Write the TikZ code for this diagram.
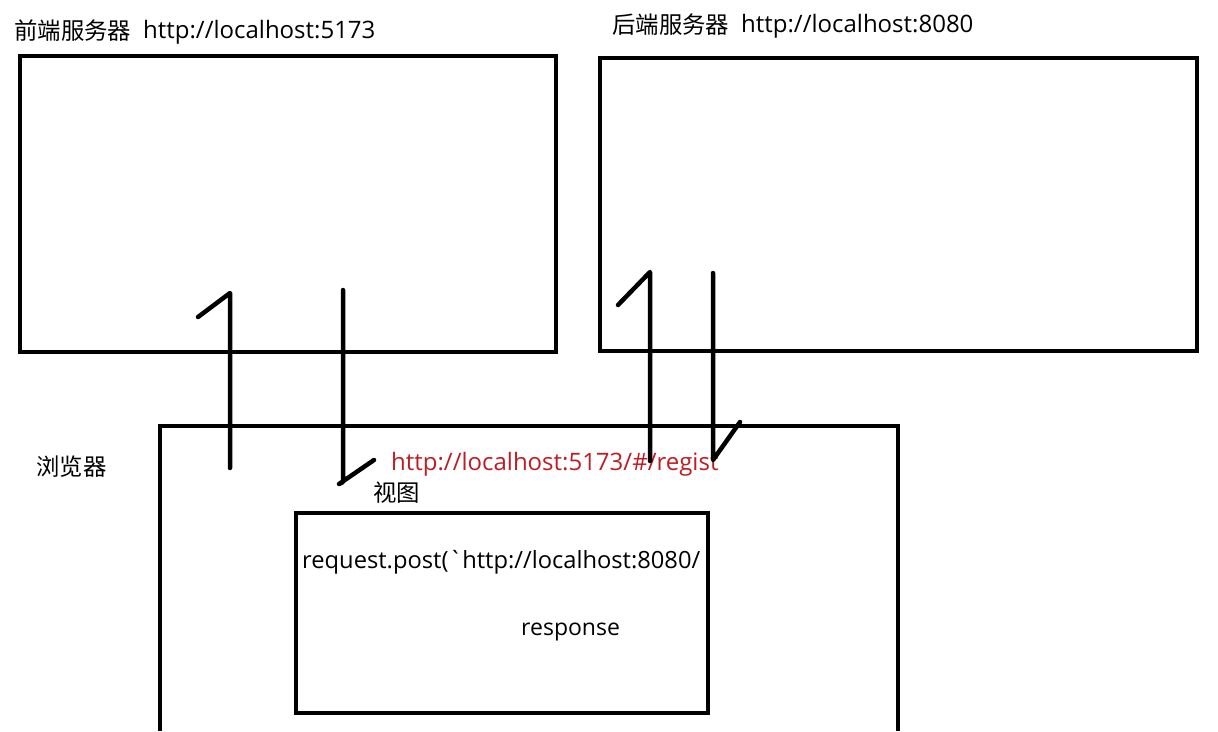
\documentclass[tikz,border=0pt]{standalone}
\usepackage{fontspec}
\setmainfont{Open Sans}
\newfontfamily\rawfont{Open Sans}[Ligatures=TeXOff]
\newfontfamily\cjk{Noto Sans CJK SC}
\definecolor{urlred}{RGB}{190,30,35}
\begin{document}
\begin{tikzpicture}[x=1pt,y=-1pt,
  box/.style={draw=black,line width=4pt,minimum width=#1},
  wire/.style={line width=4.5pt,line cap=round,line join=round},
  lbl/.style={anchor=west,inner sep=0pt,font=\fontsize{24}{26}\selectfont},
  cjklbl/.style={anchor=west,inner sep=0pt,font=\cjk\fontsize{23.4}{26}\selectfont}]
\useasboundingbox[fill=white] (0,0) rectangle (1218,731);
% boxes
\node[box=536pt,minimum height=296pt] (front) at (288,204) {};
\node[box=597pt,minimum height=293pt] (back) at (898.5,204.5) {};
\node[box=412pt,minimum height=200pt] (view) at (502,613) {};
\coordinate (bl) at (160,731);
\coordinate (tl) at (160,426);
\coordinate (tr) at (898,426);
\coordinate (br) at (898,731);
\draw[line width=4pt] (bl) -- (tl) -- (tr) -- (br);
% labels
\node[cjklbl] (flab) at (14,31) {前端服务器};
\node[lbl] (furl) at (143,32) {http://localhost:5173};
\node[cjklbl] (blab) at (612,25) {后端服务器};
\node[lbl] (burl) at (741,26) {http://localhost:8080};
\node[cjklbl] (blab2) at (36,467) {浏览器};
\node[lbl,text=urlred] (rurl) at (391,464) {http://localhost:5173/\#/regist};
\node[cjklbl] (vlab) at (373,493) {视图};
\node[lbl,font=\rawfont\fontsize{23.7}{26}\selectfont] (req) at (302,562) {request.post(`http://localhost:8080/};
\node[lbl,font=\fontsize{23}{26}\selectfont] (resp) at (521,632) {response};
% arrows left
\coordinate (a1t) at (230,293);
\coordinate (a1b) at (230,468);
\coordinate (a1h) at (198,317);
\draw[wire] (a1h) -- (a1t) -- (a1b);
\coordinate (a2t) at (343,290);
\coordinate (a2b) at (339,484);
\coordinate (a2h) at (374,460);
\draw[wire] (a2t) -- (343,482) -- (a2b) -- (a2h);
% arrows right
\coordinate (a3t) at (650,272);
\coordinate (a3b) at (650,461);
\coordinate (a3h) at (618,305);
\draw[wire] (a3h) -- (a3t) -- (a3b);
\coordinate (a4t) at (713,273);
\coordinate (a4b) at (713,460);
\coordinate (a4h) at (740,422);
\draw[wire] (a4t) -- (a4b) -- (a4h);
\end{tikzpicture}
\end{document}
